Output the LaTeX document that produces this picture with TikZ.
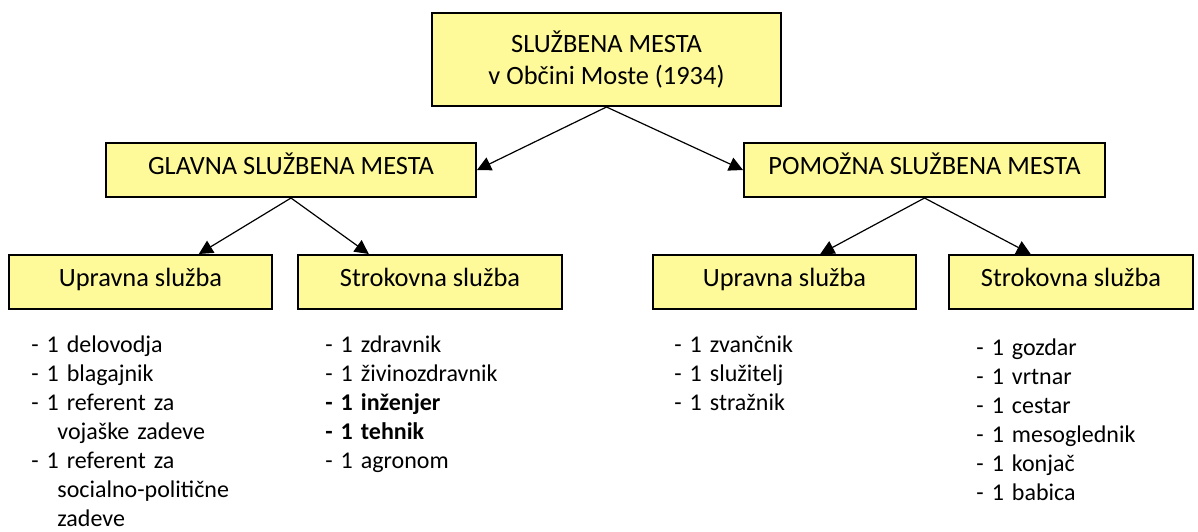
\documentclass[tikz,border=0pt]{standalone}
\usepackage{fontspec}
\setmainfont{Carlito}
\usepackage{xcolor}
\usepackage{tikz}
\usetikzlibrary{arrows.meta, positioning, calc}

\begin{document}
\begin{tikzpicture}[x=0.5pt, y=-0.5pt]
\tikzstyle{post} = [rectangle, draw, line width=1pt, fill=yellow!40, inner sep=0pt, minimum height=27pt, font=\fontsize{13.2}{16.3}\selectfont]
\tikzstyle{single} = [post, text height=0.8em, text depth=0.31em]
\tikzstyle{list} = [anchor=base west, inner sep=0pt, text width=4cm, align=left, font=\fontsize{12}{14.5}\selectfont]
\tikzstyle{link} = [-{Triangle[length=7pt, width=7pt]}, line width=0.6pt]

\useasboundingbox (0,0) rectangle (1198,531);

\node (top) [post, align=center, minimum width=174.5pt, minimum height=46.5pt] at (606.5,59.5) {SLUŽBENA MESTA\\v Občini Moste (1934)};

\node (glavna) [single, minimum width=185pt] at (291,170) {GLAVNA SLUŽBENA MESTA};
\node (pomozna) [single, minimum width=180.5pt] at (924.5,170) {POMOŽNA SLUŽBENA MESTA};

\node (upr1) [single, minimum width=131.5pt] at (140.5,282) {Upravna služba};
\node (str1) [single, minimum width=132pt] at (430,282) {Strokovna služba};
\node (upr2) [single, minimum width=131.5pt] at (784.5,282) {Upravna služba};
\node (str2) [single, minimum width=122pt] at (1071,282) {Strokovna služba};

\node (list1) [list] at (31,352) {- 1 delovodja\\- 1 blagajnik\\- 1 referent za\\\hspace*{13pt}vojaške zadeve\\- 1 referent za\\\hspace*{13pt}socialno-politične\\\hspace*{13pt}zadeve};
\node (list2) [list] at (325,352) {- 1 zdravnik\\- 1 živinozdravnik\\\textbf{- 1 inženjer}\\\textbf{- 1 tehnik}\\- 1 agronom};
\node (list3) [list] at (674,352) {- 1 zvančnik\\- 1 služitelj\\- 1 stražnik};
\node (list4) [list] at (976,355) {- 1 gozdar\\- 1 vrtnar\\- 1 cestar\\- 1 mesoglednik\\- 1 konjač\\- 1 babica};

\draw [link] (top.south) -- (glavna.east);
\draw [link] (top.south) -- (pomozna.west);
\draw [link] (glavna.south) -- ($(upr1.north west)!0.72!(upr1.north east)$);
\draw [link] (glavna.south) -- ($(str1.north west)!0.27!(str1.north east)$);
\draw [link] (pomozna.south) -- ($(upr2.north west)!0.635!(upr2.north east)$);
\draw [link] (pomozna.south) -- ($(str2.north west)!0.336!(str2.north east)$);

\end{tikzpicture}
\end{document}
